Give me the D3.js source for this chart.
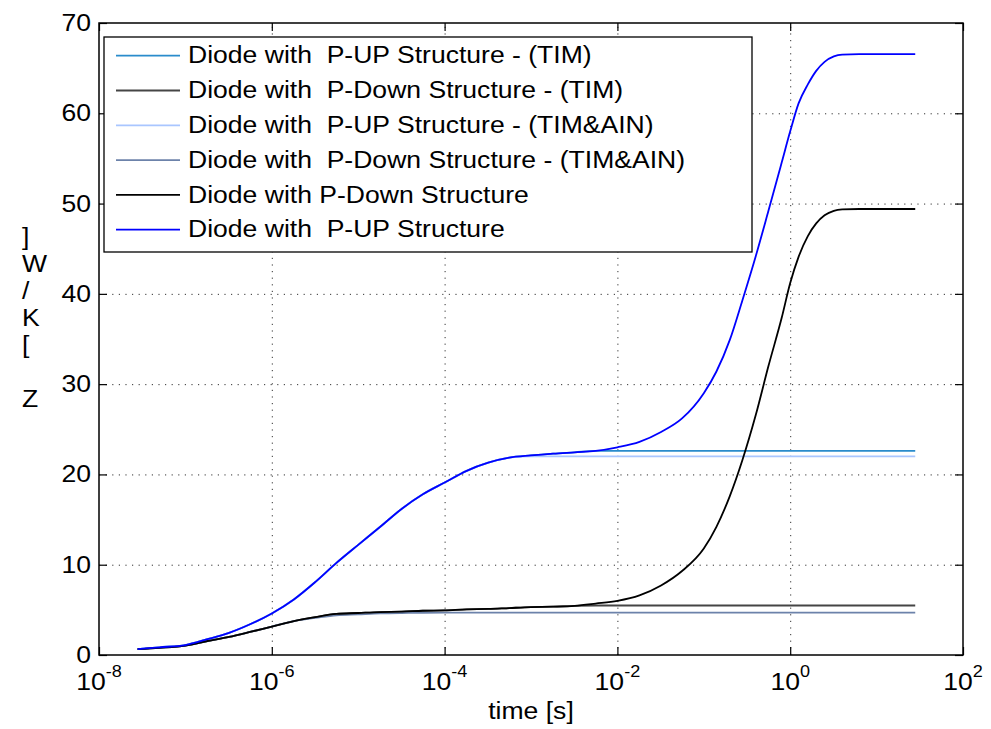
<!DOCTYPE html>
<html>
<head>
<meta charset="utf-8">
<script src="https://cdn.jsdelivr.net/npm/d3@7"></script>
<style>
  body { margin: 0; background: #fff; }
  svg text { font-family: "Liberation Sans", Arial, Helvetica, sans-serif; fill: #000; }
</style>
</head>
<body>
<div id="chart"></div>
<script>
// time axis [s], shared by all six curves
const time = [2.8e-8, 5e-8, 1e-7, 1.8e-7, 3.2e-7, 5.6e-7, 1e-6, 1.8e-6, 3.2e-6, 5.6e-6,
  1e-5, 1.8e-5, 3.2e-5, 5.6e-5, 1e-4, 1.8e-4, 3.2e-4, 5.6e-4, 1e-3, 1.8e-3,
  3.2e-3, 5.6e-3, 1e-2, 1.8e-2, 3.2e-2, 5.6e-2, 0.1, 0.14, 0.2, 0.28,
  0.4, 0.56, 0.8, 1, 1.25, 1.6, 2, 2.5, 3.2, 4,
  6.3, 10, 16, 28];

// Z [K/W]
const pUpTim = [0.65, 0.85, 1.1, 1.75, 2.45, 3.4, 4.6, 6.15, 8.1, 10.2,
  12.2, 14.2, 16.2, 17.8, 19.1, 20.4, 21.3, 21.85, 22.1, 22.3,
  22.45, 22.6, 22.6, 22.6, 22.6, 22.6, 22.6, 22.6, 22.6, 22.6,
  22.6, 22.6, 22.6, 22.6, 22.6, 22.6, 22.6, 22.6, 22.6, 22.6,
  22.6, 22.6, 22.6, 22.6];
const pDownTim = [0.65, 0.8, 1.05, 1.55, 2.0, 2.55, 3.15, 3.75, 4.2, 4.55,
  4.65, 4.75, 4.8, 4.9, 4.95, 5.05, 5.1, 5.2, 5.3, 5.35,
  5.45, 5.48, 5.48, 5.48, 5.48, 5.48, 5.48, 5.48, 5.48, 5.48,
  5.48, 5.48, 5.48, 5.48, 5.48, 5.48, 5.48, 5.48, 5.48, 5.48,
  5.48, 5.48, 5.48, 5.48];
const pUpTimAln = [0.65, 0.85, 1.1, 1.75, 2.45, 3.4, 4.6, 6.15, 8.1, 10.2,
  12.2, 14.2, 16.2, 17.8, 19.1, 20.4, 21.3, 21.85, 22.0, 22.0,
  22.0, 22.0, 22.0, 22.0, 22.0, 22.0, 22.0, 22.0, 22.0, 22.0,
  22.0, 22.0, 22.0, 22.0, 22.0, 22.0, 22.0, 22.0, 22.0, 22.0,
  22.0, 22.0, 22.0, 22.0];
const pDownTimAln = [0.65, 0.8, 1.05, 1.55, 2.0, 2.55, 3.15, 3.75, 4.1, 4.4,
  4.5, 4.6, 4.65, 4.68, 4.7, 4.7, 4.7, 4.7, 4.7, 4.7,
  4.7, 4.7, 4.7, 4.7, 4.7, 4.7, 4.7, 4.7, 4.7, 4.7,
  4.7, 4.7, 4.7, 4.7, 4.7, 4.7, 4.7, 4.7, 4.7, 4.7,
  4.7, 4.7, 4.7, 4.7];
const pDown = [0.65, 0.8, 1.05, 1.55, 2.0, 2.55, 3.15, 3.75, 4.2, 4.55,
  4.65, 4.75, 4.8, 4.9, 4.95, 5.05, 5.1, 5.2, 5.3, 5.35,
  5.45, 5.7, 6.0, 6.6, 7.7, 9.3, 11.8, 14.2, 17.6, 21.6,
  26.6, 32.0, 37.4, 41.2, 44.1, 46.4, 47.8, 48.7, 49.2, 49.35,
  49.4, 49.4, 49.4, 49.4];
const pUp = [0.65, 0.85, 1.1, 1.75, 2.45, 3.4, 4.6, 6.15, 8.1, 10.2,
  12.2, 14.2, 16.2, 17.8, 19.1, 20.4, 21.3, 21.85, 22.1, 22.3,
  22.45, 22.6, 23.0, 23.6, 24.7, 26.2, 29.0, 31.4, 34.9, 39.3,
  44.2, 49.2, 54.6, 58.0, 61.1, 63.2, 64.7, 65.7, 66.3, 66.5,
  66.55, 66.55, 66.55, 66.55];

const seriesNames = [
  "Diode with  P-UP Structure - (TIM)",
  "Diode with  P-Down Structure - (TIM)",
  "Diode with  P-UP Structure - (TIM&AIN)",
  "Diode with  P-Down Structure - (TIM&AIN)",
  "Diode with P-Down Structure",
  "Diode with  P-UP Structure"
];
const seriesValues = [pUpTim, pDownTim, pUpTimAln, pDownTimAln, pDown, pUp];
const seriesColors = ["#2a8ccc", "#454545", "#a9c6ff", "#6c82aa", "#000000", "#0000ff"];

const xTickExps = [-8, -6, -4, -2, 0, 2];
const yTicks = [0, 10, 20, 30, 40, 50, 60, 70];
const yLabelChars = ["]", "W", "/", "K", "[", " ", "Z"];

const W = 991, H = 729;
const plotL = 99, plotR = 963, plotT = 23, plotB = 655;
const stretchK = 1.13;

const svg = d3.select("#chart").append("svg")
  .attr("width", W).attr("height", H);

const x = d3.scaleLog().domain([1e-8, 1e2]).range([plotL, plotR]);
const y = d3.scaleLinear().domain([0, 70]).range([plotB, plotT]);
const xTickVals = xTickExps.map(e => Math.pow(10, e));

// widen text horizontally around its anchor point
function stretch(sel) {
  sel.each(function() {
    const t = d3.select(this);
    const x0 = +t.attr("x") || 0, y0 = +t.attr("y") || 0;
    t.attr("transform", `translate(${x0},${y0}) scale(${stretchK},1) translate(${-x0},${-y0})`);
  });
}

// grid
const gx = svg.append("g")
  .attr("transform", `translate(0,${plotB})`)
  .call(d3.axisBottom(x).tickValues(xTickVals.slice(1, -1)).tickSize(-(plotB - plotT)).tickFormat(""));
const gy = svg.append("g")
  .attr("transform", `translate(${plotL},0)`)
  .call(d3.axisLeft(y).tickValues(yTicks.slice(1, -1)).tickSize(-(plotR - plotL)).tickFormat(""));
[gx, gy].forEach(g => {
  g.select(".domain").remove();
  g.selectAll(".tick line")
    .attr("stroke", "#333")
    .attr("stroke-width", 1)
    .attr("stroke-dasharray", "1.2,5.4");
});

// inner ticks on all four sides
const tk = 8;
const axes = [
  svg.append("g").attr("transform", `translate(0,${plotB})`).call(d3.axisBottom(x).tickValues(xTickVals).tickSize(-tk).tickFormat("")),
  svg.append("g").attr("transform", `translate(0,${plotT})`).call(d3.axisTop(x).tickValues(xTickVals).tickSize(-tk).tickFormat("")),
  svg.append("g").attr("transform", `translate(${plotL},0)`).call(d3.axisLeft(y).tickValues(yTicks).tickSize(-tk).tickFormat("")),
  svg.append("g").attr("transform", `translate(${plotR},0)`).call(d3.axisRight(y).tickValues(yTicks).tickSize(-tk).tickFormat(""))
];
axes.forEach(g => {
  g.select(".domain").remove();
  g.selectAll(".tick line").attr("stroke", "#000").attr("stroke-width", 1.2);
});

// curves
const line = d3.line()
  .x((d, i) => x(time[i]))
  .y(d => y(d))
  .curve(d3.curveMonotoneX);

svg.append("g").selectAll("path")
  .data(seriesValues)
  .enter()
  .append("path")
  .attr("d", d => line(d))
  .attr("fill", "none")
  .attr("stroke", (d, i) => seriesColors[i])
  .attr("stroke-width", 1.8)
  .attr("stroke-linejoin", "round");

// box
svg.append("rect")
  .attr("x", plotL).attr("y", plotT)
  .attr("width", plotR - plotL).attr("height", plotB - plotT)
  .attr("fill", "none").attr("stroke", "#000").attr("stroke-width", 1.5);

// tick labels
svg.append("g").selectAll("text")
  .data(yTicks)
  .enter()
  .append("text")
  .attr("x", plotL - 8)
  .attr("y", d => y(d) + 8)
  .attr("text-anchor", "end")
  .attr("font-size", 23.5)
  .text(d => d)
  .call(stretch);

const xl = svg.append("g").selectAll("text")
  .data(xTickExps)
  .enter()
  .append("text")
  .attr("x", d => x(Math.pow(10, d)))
  .attr("y", 690)
  .attr("text-anchor", "middle")
  .attr("font-size", 23.5);
xl.append("tspan").text("10");
xl.append("tspan").attr("dy", -13).attr("font-size", 16).text(d => d);
xl.call(stretch);

// axis titles
svg.append("text")
  .attr("x", (plotL + plotR) / 2)
  .attr("y", 719)
  .attr("text-anchor", "middle")
  .attr("font-size", 23.5)
  .text("time [s]")
  .call(stretch);

svg.append("g").selectAll("text")
  .data(yLabelChars)
  .enter()
  .append("text")
  .attr("x", 22)
  .attr("y", (d, i) => 245 + i * 27)
  .attr("font-size", 23.5)
  .text(d => d)
  .call(stretch);

// legend
const lg = svg.append("g");
lg.append("rect")
  .attr("x", 104).attr("y", 37)
  .attr("width", 648).attr("height", 215)
  .attr("fill", "#fff").attr("stroke", "#000").attr("stroke-width", 1.3);
const rows = lg.selectAll("g.row")
  .data(seriesNames)
  .enter()
  .append("g")
  .attr("class", "row");
rows.append("line")
  .attr("x1", 116).attr("x2", 180)
  .attr("y1", (d, i) => 55.7 + i * 34.8)
  .attr("y2", (d, i) => 55.7 + i * 34.8)
  .attr("stroke", (d, i) => seriesColors[i])
  .attr("stroke-width", 1.8);
rows.append("text")
  .attr("x", 188)
  .attr("y", (d, i) => 63.5 + i * 34.8)
  .attr("font-size", 23.5)
  .style("white-space", "pre")
  .text(d => d)
  .call(stretch);
</script>
</body>
</html>
